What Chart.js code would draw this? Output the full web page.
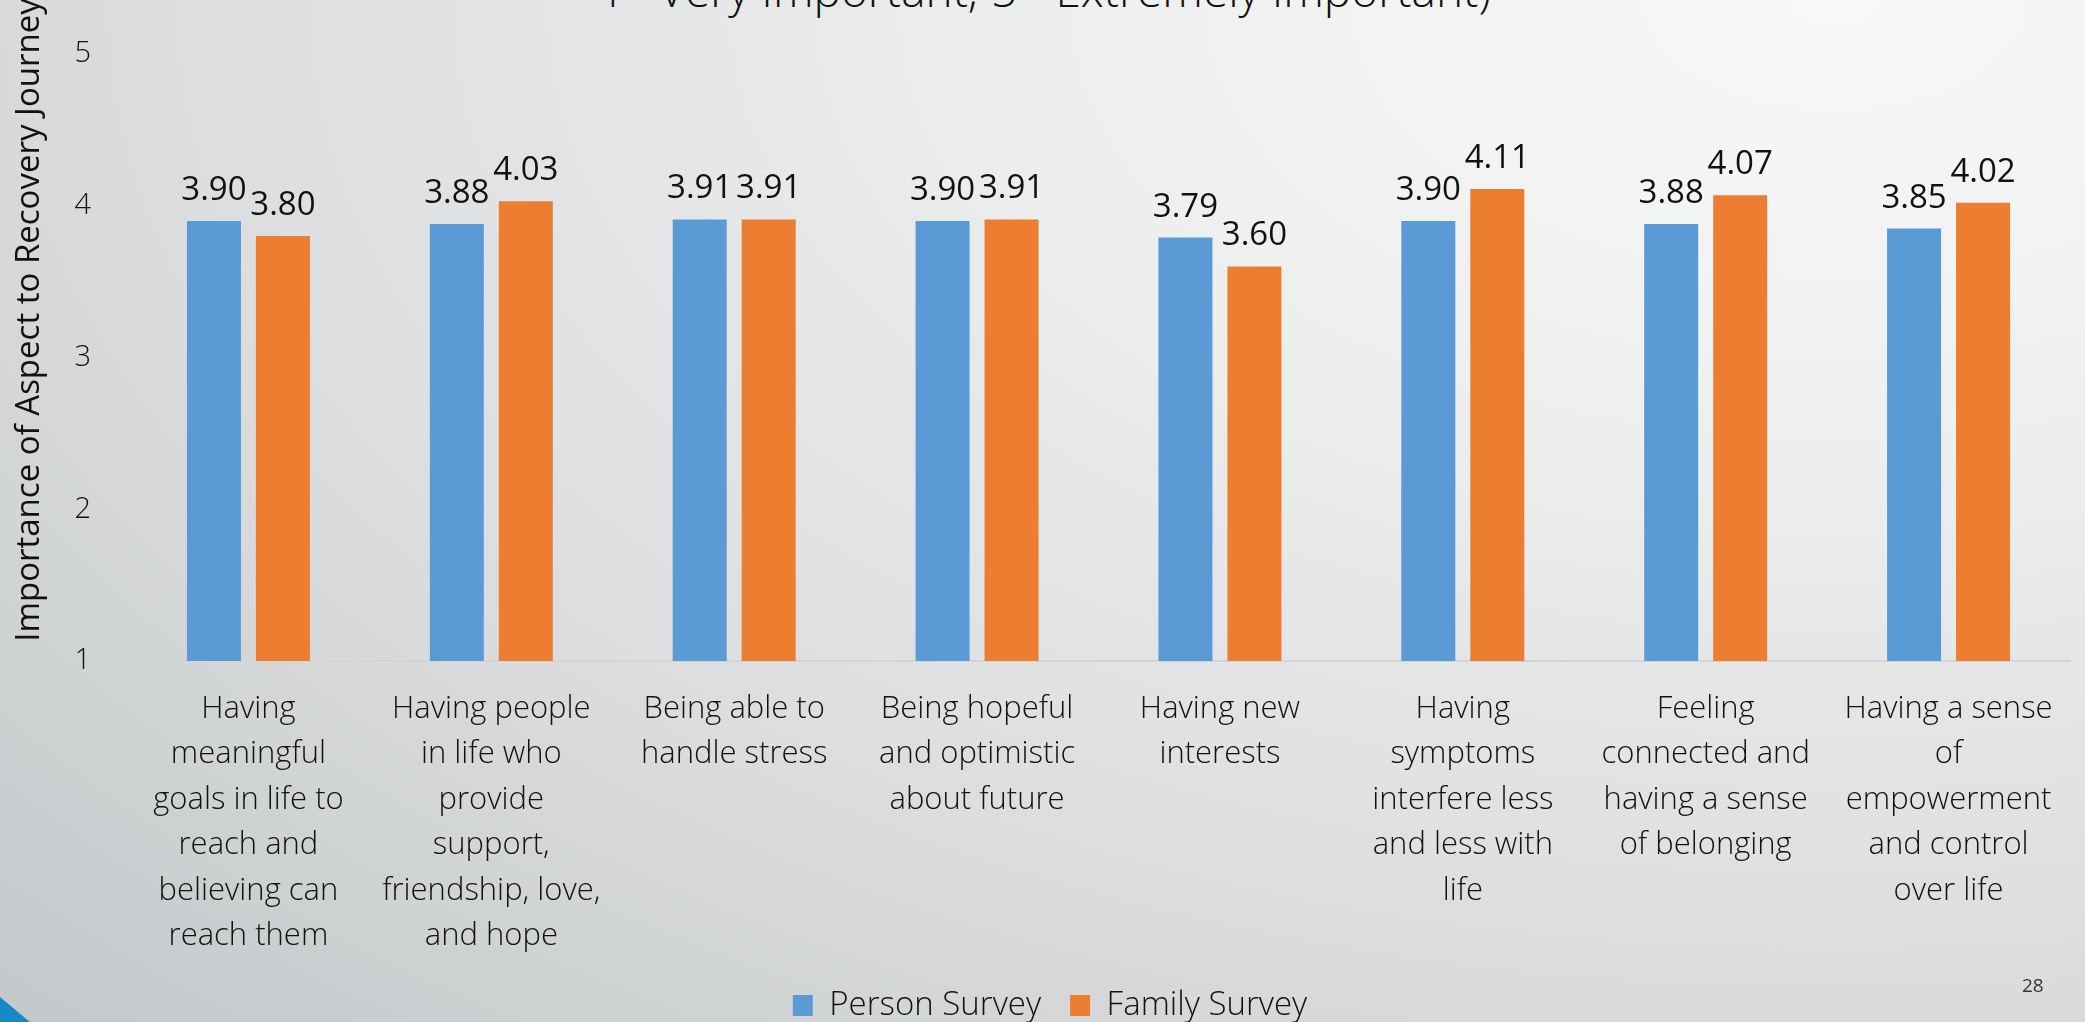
<!DOCTYPE html>
<html>
<head>
<meta charset="utf-8">
<script src="https://cdn.jsdelivr.net/npm/chart.js@4.4.1/dist/chart.umd.min.js"></script>
<style>
    html, body {
        margin: 0;
        padding: 0;
        width: 2085px;
        height: 1022px;
        overflow: hidden;
    }
    body {
        position: relative;
        background: radial-gradient(ellipse 120% 140% at 88% 0%, #f8f8f8 0%, #eeefef 30%, #dcdedf 65%, #c6c9cb 100%);
        font-family: 'Open Sans', sans-serif;
    }
    #topTitle {
        position: absolute;
        left: 0;
        top: -34px;
        width: 2085px;
        text-align: center;
        font: 300 46px/46px 'Open Sans', sans-serif;
        color: #111;
        white-space: nowrap;
    }
    #corner {
        position: absolute;
        left: 0;
        top: 997px;
        width: 60px;
        height: 50px;
        background: #1689c7;
        clip-path: polygon(0 0, 100% 100%, 0 100%);
    }
    #pageNum {
        position: absolute;
        left: 2022px;
        top: 972px;
        font: 400 19px 'Open Sans', sans-serif;
        color: #333;
    }
    #grafico {
        position: absolute;
        left: 0;
        top: 0;
    }
</style>
</head>
<body>
<div id="topTitle">4= Very Important; 5= Extremely Important)</div>
<canvas id="grafico" width="2085" height="1032"></canvas>
<div id="corner"></div>
<div id="pageNum">28</div>
<script>
const categorias = [
    ['Having', 'meaningful', 'goals in life to', 'reach and', 'believing can', 'reach them'],
    ['Having people', 'in life who', 'provide', 'support,', 'friendship, love,', 'and hope'],
    ['Being able to', 'handle stress'],
    ['Being hopeful', 'and optimistic', 'about future'],
    ['Having new', 'interests'],
    ['Having', 'symptoms', 'interfere less', 'and less with', 'life'],
    ['Feeling', 'connected and', 'having a sense', 'of belonging'],
    ['Having a sense', 'of', 'empowerment', 'and control', 'over life']
];
const personSurvey = [3.90, 3.88, 3.91, 3.90, 3.79, 3.90, 3.88, 3.85];
const familySurvey = [3.80, 4.03, 3.91, 3.91, 3.60, 4.11, 4.07, 4.02];
const yMin = 1;
const yMax = 5;
const tituloEixoY = 'Importance of Aspect to Recovery Journey';

const fonte = "'Open Sans', sans-serif";

// valores em cima das barras (sem plugin datalabels)
const rotulosBarras = {
    id: 'rotulosBarras',
    afterDatasetsDraw(chart) {
        const ctx = chart.ctx;
        ctx.save();
        ctx.font = '400 33px ' + fonte;
        ctx.fillStyle = '#111';
        ctx.textAlign = 'center';
        ctx.textBaseline = 'alphabetic';
        chart.data.datasets.forEach((ds, i) => {
            chart.getDatasetMeta(i).data.forEach((bar, j) => {
                ctx.fillText(ds.data[j].toFixed(2), bar.x, bar.y - 21);
            });
        });
        ctx.restore();
    }
};

// titulo do eixo Y, fora do centro da area
const tituloY = {
    id: 'tituloY',
    afterDraw(chart) {
        const ctx = chart.ctx;
        ctx.save();
        ctx.translate(30, 320);
        ctx.rotate(-Math.PI / 2);
        ctx.font = '400 33px ' + fonte;
        ctx.fillStyle = '#111';
        ctx.textAlign = 'center';
        ctx.textBaseline = 'middle';
        ctx.fillText(tituloEixoY, 0, 0);
        ctx.restore();
    }
};

const ctx = document.getElementById('grafico').getContext('2d');
new Chart(ctx, {
    type: 'bar',
    data: {
        labels: categorias,
        datasets: [
            {
                label: 'Person Survey',
                data: personSurvey,
                backgroundColor: '#5b9bd5',
                categoryPercentage: 0.568,
                barPercentage: 0.783
            },
            {
                label: 'Family Survey',
                data: familySurvey,
                backgroundColor: '#ed7d31',
                categoryPercentage: 0.568,
                barPercentage: 0.783
            }
        ]
    },
    options: {
        responsive: false,
        animation: false,
        devicePixelRatio: 1,
        layout: {
            padding: { top: 54, left: 30, right: 15, bottom: 0 }
        },
        plugins: {
            legend: {
                position: 'bottom',
                labels: {
                    boxWidth: 20,
                    boxHeight: 21,
                    padding: 29,
                    color: '#111',
                    font: { family: fonte, size: 33, weight: 300 }
                }
            },
            tooltip: { enabled: false },
            title: { display: false }
        },
        scales: {
            x: {
                grid: { display: false, drawTicks: false },
                border: { display: true, color: '#d2d4d5', width: 2 },
                ticks: {
                    color: '#111',
                    padding: 25,
                    maxRotation: 0,
                    autoSkip: false,
                    font: { family: fonte, size: 31, weight: 300, lineHeight: 1.47 }
                },
                afterFit(scale) {
                    scale.height = 299;
                }
            },
            y: {
                min: yMin,
                max: yMax,
                grid: { display: false, drawTicks: false },
                border: { display: false },
                ticks: {
                    stepSize: 1,
                    color: '#111',
                    padding: 36,
                    font: { family: fonte, size: 29, weight: 300 }
                },
                afterFit(scale) {
                    scale.width = 97;
                }
            }
        }
    },
    plugins: [rotulosBarras, tituloY]
});
</script>
</body>
</html>
